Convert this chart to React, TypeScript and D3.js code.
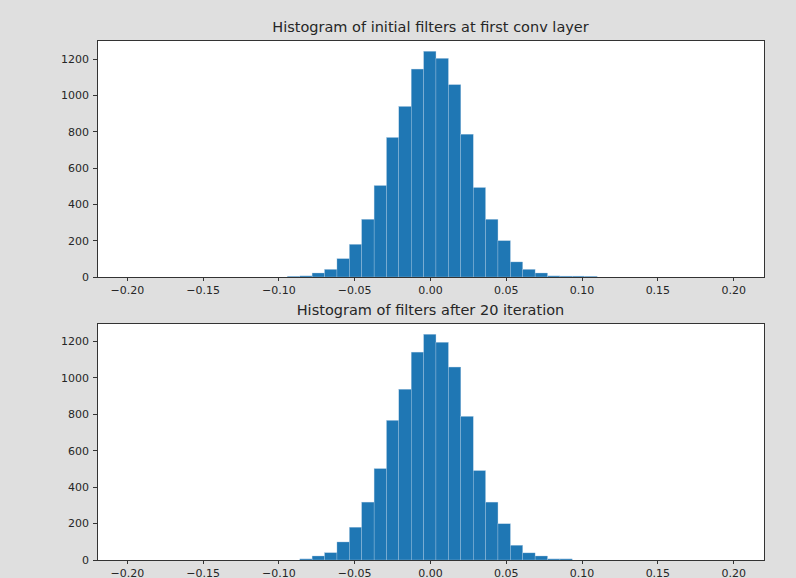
import React from "react";
import * as d3 from "d3";

// Bin edges (shared by both histograms)
const binEdges = [
  -0.0944, -0.0862, -0.0781, -0.0699, -0.0617, -0.0535, -0.0454, -0.0372,
  -0.029, -0.0209, -0.0127, -0.0045, 0.0036, 0.0118, 0.02, 0.0282, 0.0363,
  0.0445, 0.0527, 0.0608, 0.069, 0.0772, 0.0854, 0.0935, 0.1017, 0.1099,
];

const initialCounts = [
  4, 6, 22, 42, 101, 180, 318, 504, 769, 940, 1146, 1244, 1205, 1060, 787,
  493, 318, 200, 83, 42, 22, 6, 5, 5, 4,
];

const afterCounts = [
  0, 6, 22, 40, 99, 180, 318, 502, 767, 938, 1142, 1240, 1196, 1060, 789,
  491, 318, 199, 81, 39, 22, 6, 6, 0, 0,
];

const xTicks = [-0.2, -0.15, -0.1, -0.05, 0.0, 0.05, 0.1, 0.15, 0.2];
const yTicks = [0, 200, 400, 600, 800, 1000, 1200];

const titles = [
  "Histogram of initial filters at first conv layer",
  "Histogram of filters after 20 iteration",
];

const W = 796;
const H = 578;
const LEFT = 97;
const RIGHT = 764;
const AX_H = 237;
const PANEL_TOPS = [40, 323];
const FONT = "DejaVu Sans, sans-serif";
const BAR = "#1f77b4";

function fmtX(v: number) {
  const s = Math.abs(v).toFixed(2);
  return v < -1e-9 ? "\u2212" + s : s;
}

function Panel({ top, counts, title }: { top: number; counts: number[]; title: string }) {
  const maxC = d3.max(counts) as number;
  const x = d3.scaleLinear().domain([-0.22, 0.22]).range([LEFT, RIGHT]);
  const y = d3.scaleLinear().domain([0, maxC * 1.05]).range([top + AX_H, top]);
  const bins = counts.map((c, i) => ({ x0: binEdges[i], x1: binEdges[i + 1], c }));
  return (
    <g>
      <rect x={LEFT} y={top} width={RIGHT - LEFT} height={AX_H} fill="#ffffff" />
      {bins
        .filter((b) => b.c > 0)
        .map((b, i) => (
          <rect
            key={i}
            x={x(b.x0)}
            y={y(b.c)}
            width={x(b.x1) - x(b.x0)}
            height={y(0) - y(b.c)}
            fill={BAR}
            stroke="#a9c8e3"
            strokeWidth={0.35}
          />
        ))}
      <rect
        x={LEFT}
        y={top}
        width={RIGHT - LEFT}
        height={AX_H}
        fill="none"
        stroke="#333"
        strokeWidth={1}
        shapeRendering="crispEdges"
      />
      {xTicks.map((t) => (
        <g key={t}>
          <line
            x1={x(t)}
            x2={x(t)}
            y1={top + AX_H}
            y2={top + AX_H + 4}
            stroke="#333"
            shapeRendering="crispEdges"
          />
          <text
            x={x(t)}
            y={top + AX_H + 17}
            textAnchor="middle"
            fontFamily={FONT}
            fontSize={11}
            fill="#262626"
          >
            {fmtX(t)}
          </text>
        </g>
      ))}
      {yTicks.map((t) => (
        <g key={t}>
          <line
            x1={LEFT - 4}
            x2={LEFT}
            y1={y(t)}
            y2={y(t)}
            stroke="#333"
            shapeRendering="crispEdges"
          />
          <text
            x={LEFT - 8}
            y={y(t)}
            dy="0.35em"
            textAnchor="end"
            fontFamily={FONT}
            fontSize={11}
            fill="#262626"
          >
            {t}
          </text>
        </g>
      ))}
      <text
        x={(LEFT + RIGHT) / 2}
        y={top - 8}
        textAnchor="middle"
        fontFamily={FONT}
        fontSize={14.5}
        fill="#262626"
      >
        {title}
      </text>
    </g>
  );
}

export default function App() {
  return (
    <svg
      width={W}
      height={H}
      style={{ position: "fixed", left: 0, top: 0, display: "block" }}
    >
      <rect x={0} y={0} width={W} height={H} fill="#dfdfdf" />
      <Panel top={PANEL_TOPS[0]} counts={initialCounts} title={titles[0]} />
      <Panel top={PANEL_TOPS[1]} counts={afterCounts} title={titles[1]} />
    </svg>
  );
}
